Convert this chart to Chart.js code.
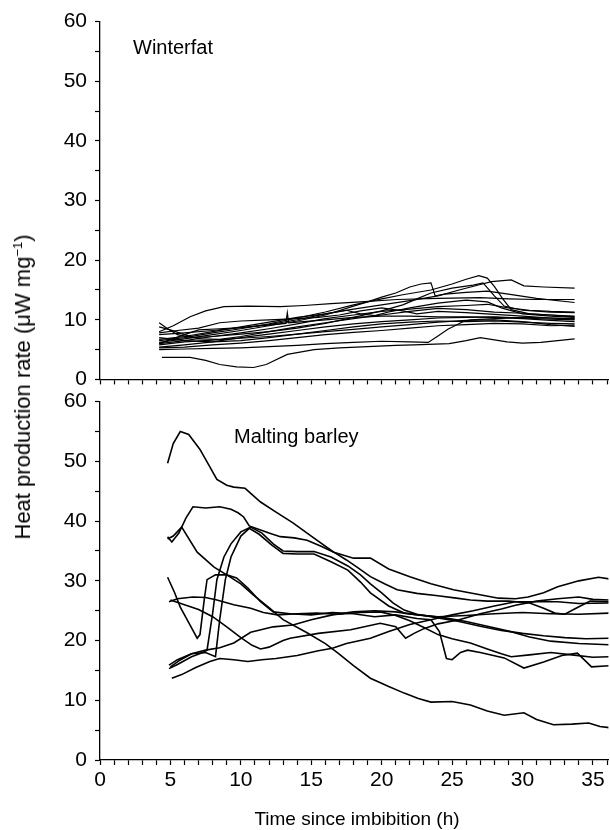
<!DOCTYPE html>
<html>
<head>
<meta charset="utf-8">
<script src="https://cdn.jsdelivr.net/npm/chart.js@4.4.1/dist/chart.umd.min.js"></script>
<style>
  body { margin: 0; background: #fff; }
  #page { position: relative; width: 610px; height: 830px; overflow: hidden; font-family: "Liberation Sans", Arial, sans-serif; color: #000; }
  canvas { position: absolute; left: 0; }
  .lbl { position: absolute; white-space: nowrap; line-height: 1; }
</style>
</head>
<body>
<div id="page">
  <canvas id="topChart" width="610" height="400" style="top:0"></canvas>
  <canvas id="bottomChart" width="610" height="450" style="top:380px"></canvas>
  <div class="lbl" style="left:133px; top:37px; font-size:20px;">Winterfat</div>
  <div class="lbl" style="left:234px; top:426px; font-size:20px;">Malting barley</div>
  <div class="lbl" style="left:357px; top:818px; font-size:19px; transform:translate(-50%,-50%);">Time since imbibition (h)</div>
  <div class="lbl" style="left:23px; top:387px; font-size:22px; transform:translate(-50%,-50%) rotate(-90deg);">Heat production rate (μW mg<sup style="font-size:13px; vertical-align:8px; line-height:0;">−1</sup>)</div>
</div>
<script>
// axis ranges (h, µW mg-1)
const xMax = 36.1;
const yMax = 60;

// Winterfat traces [time, rate]
const wf1 = [[4.4,3.7],[6.4,3.7],[7.5,3.2],[8.5,2.5],[9.7,2.1],[10.9,2.0],[11.8,2.5],[13.3,4.2],[15.2,5],[17,5.3],[19,5.5],[21,5.7],[22.3,5.8],[24.8,6],[26,6.5],[27,7],[28.9,6.3],[30,6.1],[31.3,6.2],[33.7,6.8]];
const wf2 = [[4.2,8],[5.2,9],[6.4,10.5],[7.5,11.5],[8.8,12.2],[10.5,12.3],[12.8,12.2],[14.5,12.4],[16.4,12.7],[18.5,13],[21.1,13.4],[24,13.6],[27,13.7],[29,13.5],[31,13.4],[33.7,13.4]];
const wf3 = [[4.2,6.5],[6,7],[8,7.8],[10,8.5],[12,9.3],[14,10.3],[16,11.3],[18,12.5],[20,13.5],[21.5,14.2],[23.5,15],[25,16],[26,16.8],[26.9,17.4],[27.5,17],[28,15.6],[28.6,13.5],[29.2,11.7],[30.5,11],[32,10.8],[33.7,10.5]];
const wf4 = [[4.2,7.5],[6,7.8],[8,8.2],[10,8.7],[12,9.2],[14,10],[16,11],[18,11.8],[20,12.5],[22,13.2],[24,14],[25.5,15],[26.8,15.8],[27.8,16.4],[29.2,16.7],[30.1,15.7],[31.5,15.5],[33.7,15.3]];
const wf5 = [[4.2,6.2],[6,6.8],[8,7.5],[10,8.2],[12,9],[14,9.8],[16,10.8],[18,12.3],[19,13],[20,13.8],[21,14.5],[22,15.5],[22.8,16],[23.5,16.2],[23.8,14],[24.5,14.3],[26,14.6],[27.5,14.8],[29,14.3],[31,13.6],[33.7,12.9]];
const wf6 = [[4.2,9.5],[4.8,8.5],[5.5,7.5],[6.5,7],[8,7.2],[10,7.8],[12,8.5],[14,9.3],[16,10.2],[18,10.8],[20,11.4],[22,11.8],[24,12.2],[26,12.4],[27.5,12.6],[29,12],[30.5,11.6],[32,11.4],[33.7,11.3]];
const wf7 = [[4.2,5.4],[6,5.8],[8,6.3],[10,7],[12,7.6],[14,8.2],[16,8.8],[18,9.3],[20,9.7],[22,10],[24,10.3],[26,10.4],[28,10.5],[30,10.3],[32,10.1],[33.7,10]];
const wf8 = [[4.2,6],[6,7.5],[7,8.3],[8.5,8.5],[10,8.7],[11.5,9],[13.2,9.4],[13.3,11.2],[13.4,9.5],[14,9.6],[16,10],[18,10.4],[20,10.6],[22,10.6],[24,10.5],[26,10.5],[28,10.4],[30,10.2],[32,9.9],[33.7,9.7]];
const wf9 = [[4.2,7],[6,6.5],[8,6.3],[10,6.5],[12,7],[14,7.6],[16,8.2],[18,8.8],[20,9.3],[22,9.6],[24,9.8],[26,9.7],[28,9.8],[30,9.6],[32,9.4],[33.7,9.3]];
const wf10 = [[4.2,5],[6,5.1],[8,5.2],[10,5.3],[12,5.5],[14,5.7],[16,6],[18,6.2],[20,6.4],[22,6.3],[23.3,6.2],[24,7.3],[24.7,8.4],[25.8,9.7],[26.3,10],[28,10.2],[30,10.4],[32,10.3],[33.7,10.2]];
const wf11 = [[4.2,8.8],[5,8.3],[6,7.5],[7,6.8],[8.5,6.7],[10,7.2],[12,8],[14,8.8],[16,9.5],[18,10.2],[20,10.8],[22,11.4],[24,11.9],[26,11.7],[27,11.5],[28,11.3],[30,11.1],[32,10.8],[33.7,10.6]];
const wf12 = [[4.2,5.8],[6,6.3],[8,6.6],[10,6.9],[12,7.2],[14,7.6],[16,8],[18,8.4],[20,8.8],[22,9.2],[24,9.6],[26,9.9],[28,10],[30,9.7],[32,9.2],[33.7,8.9]];
const wf13 = [[4.2,6.7],[6,7.2],[8,8],[10,8.8],[12,9.6],[14,10.4],[16,11],[17.5,11.6],[18.5,11],[19.5,10.7],[20.5,11.3],[22,12],[24,12.8],[26,13.3],[27.5,13],[28.5,12],[30,11],[32,10.6],[33.7,10.4]];
const wf14 = [[4.2,6],[6,6.5],[8,7.2],[10,7.6],[12,8],[14,8.6],[16,9.4],[18,10.4],[20,11.5],[21.5,12.5],[22.5,13.5],[23.5,14.5],[25,15.3],[26.5,15.8],[27.2,16.2],[28,14],[28.7,12.3],[30,11.6],[32,11.3],[33.7,11.2]];
const wf15 = [[4.2,7.8],[5.5,8.2],[7,8.6],[8.5,9.5],[10,9.8],[12,10],[14,10.2],[15.5,10.4],[17,10.8],[18.5,11.5],[20,12],[21.5,11.5],[22.5,11],[24,11.4],[26,11.2],[28,10.9],[30,10.6],[32,10.3],[33.7,10.1]];
const wf16 = [[4.2,5.3],[6,5.4],[8,5.8],[10,6.1],[12,6.5],[14,7],[16,7.5],[18,7.9],[20,8.2],[22,8.6],[24,9],[26,9.2],[28,9.4],[30,9.3],[32,9],[33.7,9.1]];

// Malting barley traces [time, rate]
const mb1 = [[4.8,49.7],[5.2,53],[5.7,55],[6.3,54.5],[7.1,52],[7.7,49.5],[8.3,47],[9,46],[9.5,45.7],[10.3,45.5],[11.4,43.2],[12.5,41.5],[13.7,39.7],[15,37.5],[16.6,34.8],[18,33.8],[19.2,33.8],[20.5,32],[22,30.7],[23.5,29.5],[25.1,28.5],[26.7,27.8],[28.3,27.1],[29.5,27],[30.4,27.3],[31.5,28],[32.5,29],[34,30],[35.4,30.6],[36.2,30.3]];
const mb2 = [[4.8,37.4],[5.1,36.5],[5.6,38],[6.1,40.5],[6.6,42.4],[7.5,42.2],[8.5,42.4],[9.3,42],[9.8,41.4],[10.2,40.7],[10.6,39.2],[11.2,38.7],[12,38],[12.8,37.4],[13.8,37.2],[14.7,36.8],[15.7,35.8],[16.6,34.8],[17.5,33.5],[18.3,32.2],[19.2,30.7],[20.2,29.5],[21.1,28.5],[22.5,27.9],[24,27.5],[25.3,27.1],[26.3,26.8],[27.5,26.6],[29,26.6],[30.5,26.3],[31.5,25.4],[32.3,24.6],[33,24.4],[33.8,25.4],[34.8,26.6],[36.2,26.5]];
const mb3 = [[4.8,37],[5.2,37.5],[5.8,39],[6.9,34.8],[8.1,32.3],[9,31],[10,29.5],[10.9,27.6],[12,25.5],[13,23.5],[14.7,21.3],[16,19.5],[16.9,17.9],[18,15.8],[19.2,13.7],[20.5,12.3],[21.6,11.2],[22.6,10.3],[23.5,9.7],[25,9.8],[26.3,9.2],[27.5,8.2],[28.7,7.5],[30.1,7.9],[31,6.8],[32.2,5.9],[33.5,6],[34.7,6.2],[35.5,5.6],[36.2,5.4]];
const mb4 = [[4.8,30.6],[5.3,28],[5.7,25.6],[6.3,23],[6.9,20.4],[7.1,21],[7.4,26.8],[7.6,30.2],[8.2,31],[9,31],[9.7,30.5],[10.5,28.8],[11.4,26.5],[12.3,24.8],[13.5,24.5],[15,24.3],[16.5,24.7],[18,24.5],[19.5,24],[21,24.3],[22.5,23.7],[23.5,23.5],[24.1,21.5],[24.6,17],[25,16.8],[25.6,18],[26.1,18.4],[27,18],[28.7,17.1],[30.1,15.4],[31.5,16.4],[32.8,17.5],[33.9,17.9],[34.9,15.6],[36.2,15.8]];
const mb5 = [[4.9,15.3],[5.5,16],[6.5,17.3],[7.3,18],[7.6,18.4],[8,24.6],[8.3,30.2],[8.8,34],[9.3,36.2],[10,38.2],[10.7,39],[11.5,38],[12.3,36.2],[13,35],[14,34.9],[15.2,34.9],[16.4,34],[17.6,32.5],[18.5,31],[19.2,29.5],[20,28],[20.8,26.3],[21.6,25.1],[22.5,24.4],[24,23.8],[25.5,23.2],[27,22.4],[28.5,21.7],[30,21.2],[31.5,20.8],[33,20.5],[34.5,20.3],[36.2,20.4]];
const mb6 = [[5,15.6],[5.6,16.6],[6.5,17.8],[7.5,18],[8.2,17.3],[8.5,23.5],[8.9,30.2],[9.3,34],[10,37.5],[10.6,38.8],[11.3,37.8],[12.2,36],[13,34.6],[14,34.5],[15.2,34.5],[16.4,33.2],[17.6,31.8],[18.5,29.8],[19.2,28],[20.5,25.8],[21.6,24.6],[23,24.2],[24.5,23.8],[26,23.2],[27.5,22.4],[29,21.6],[30.5,20.6],[32,19.9],[34,19.5],[36.2,19.3]];
const mb7 = [[4.9,26.5],[5.5,27],[6.6,27.3],[7.5,27.2],[8.3,26.8],[9.5,26],[10.7,25.4],[11.6,24.7],[12.6,24.3],[14,24.5],[15.4,24.6],[17,24.4],[18.5,24.7],[19.9,24.8],[21,24.2],[22,23.3],[23,22.2],[24,21],[25,20.3],[26.3,19.6],[27.5,18.6],[28.5,17.8],[29.2,17.3],[30.5,17.6],[32,18],[33.5,17.6],[35,17.2],[36.2,17.3]];
const mb8 = [[5,26.8],[6,26],[7,25.2],[8,24],[9,22.3],[10,20.5],[10.8,19.2],[11.4,18.6],[12,18.9],[13,20],[13.5,20.4],[15.5,21.2],[17.8,21.8],[19.9,22.9],[21,22.3],[21.7,20.4],[22.3,21.2],[23,22],[24,22.8],[25.5,23.5],[27,24.5],[28.5,25.3],[29.5,25.9],[31,26.6],[32.5,27],[34,27.3],[35,26.9],[36.2,26.8]];
const mb9 = [[4.9,15.9],[5.5,16.8],[6.5,17.8],[7.5,18.4],[8.5,18.8],[9.5,19.6],[10.7,21.4],[12.3,22.3],[13.7,22.6],[15,23.5],[16.5,24.3],[18,24.8],[19.5,25],[21,24.8],[22.5,24.3],[24,24],[26,24.2],[28,24.5],[30,24.7],[32,24.5],[34,24.4],[36.2,24.6]];
const mb10 = [[5.1,13.7],[5.8,14.3],[6.8,15.5],[7.8,16.5],[8.5,17],[9.5,16.8],[10.5,16.5],[11.5,16.8],[12.5,17],[14,17.5],[15.5,18.3],[16.5,18.7],[17.5,19.5],[19.2,20.4],[20.5,21.5],[22,22.7],[23.5,23.5],[25,24.3],[26.5,25],[28,25.8],[29.5,26.5],[31,26.5],[32.5,26.5],[34,26.2],[36.2,26.3]];

const winterfat = [wf1, wf2, wf3, wf4, wf5, wf6, wf7, wf8, wf9, wf10, wf11, wf12, wf13, wf14, wf15, wf16];
const barley = [mb1, mb2, mb3, mb4, mb5, mb6, mb7, mb8, mb9, mb10];

Chart.defaults.font.family = '"Liberation Sans", Arial, sans-serif';
Chart.defaults.color = '#000';

function toSets(traces, width) {
  return traces.map(t => ({
    data: t.map(p => ({ x: p[0], y: p[1] })),
    borderColor: '#000',
    borderWidth: width,
    pointRadius: 0,
    tension: 0,
    fill: false,
  }));
}

function makeConfig(traces, width, showX, xHeight) {
  return {
    type: 'line',
    data: { datasets: toSets(traces, width) },
    options: {
      responsive: false,
      animation: false,
      layout: { padding: { top: 21.7, left: 0, right: 0, bottom: 0 } },
      plugins: { legend: { display: false }, tooltip: { enabled: false } },
      scales: {
        x: {
          type: 'linear',
          min: 0,
          max: xMax,
          border: { color: '#000', width: 1.3 },
          grid: { drawOnChartArea: false, color: '#000', tickLength: 5, tickWidth: 1.2 },
          ticks: {
            stepSize: 1,
            autoSkip: false,
            includeBounds: false,
            maxRotation: 0,
            padding: 3,
            font: { size: 21 },
            callback: v => (showX && v % 5 === 0) ? v : '',
          },
          afterFit: s => { s.height = xHeight; },
        },
        y: {
          min: 0,
          max: yMax,
          border: { color: '#000', width: 1.3 },
          grid: { drawOnChartArea: false, color: '#000', tickLength: 5, tickWidth: 1.2 },
          ticks: {
            stepSize: 5,
            padding: 8,
            font: { size: 21 },
            callback: v => v % 10 === 0 ? v : '',
          },
          afterFit: s => { s.width = 100; },
        },
      },
    },
  };
}

new Chart(document.getElementById('topChart'), makeConfig(winterfat, 1.2, false, 20));
new Chart(document.getElementById('bottomChart'), makeConfig(barley, 1.6, true, 70));
</script>
</body>
</html>
